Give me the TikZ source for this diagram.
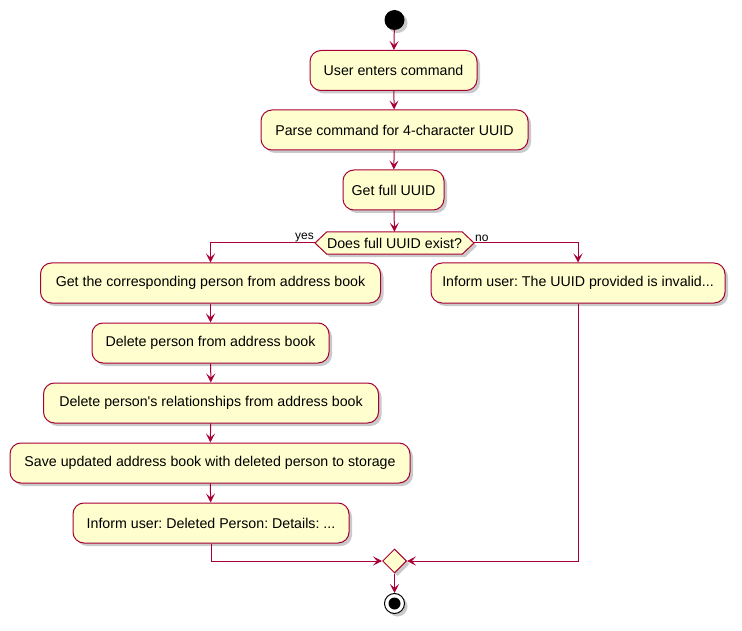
\documentclass[tikz,border=0pt]{standalone}
\usepackage{fontspec}
\setmainfont{Liberation Sans}
\frenchspacing
\usetikzlibrary{shapes.geometric,arrows.meta,shadows}
\definecolor{pborder}{HTML}{A80036}
\definecolor{pfill}{HTML}{FEFECE}
\tikzset{
  x=1pt,y=-1pt,
  shad/.style={drop shadow={shadow xshift=3pt,shadow yshift=-3pt,fill=black!35,opacity=0.6}},
  actbox/.style={draw=pborder,fill=pfill,line width=1pt,rounded corners=11pt,
    minimum height=40pt,inner sep=0pt,font=\fontsize{14.2}{17}\selectfont,shad},
  conn/.style={draw=pborder,line width=1pt,-{Stealth[length=9pt,width=9pt,inset=4pt]}},
  plain/.style={draw=pborder,line width=1pt},
  lbl/.style={font=\fontsize{12}{14}\selectfont,inner sep=1pt}
}
\begin{document}
\begin{tikzpicture}
\useasboundingbox (0,0) rectangle (742,631);
\node[circle,fill=black,minimum size=20pt,inner sep=0pt,shad] (start) at (394.5,20) {};
\node[actbox,minimum width=167pt] (uec) at (393.5,70.5) {User enters command};
\node[actbox,minimum width=267pt] (parse) at (394.5,130) {Parse command for 4-character UUID};
\node[actbox,minimum width=101pt] (full) at (393.5,190) {Get full UUID};
\node[minimum width=135pt,minimum height=22pt,inner sep=0pt] (dec) at (394.5,243) {};
\coordinate (decl) at (315,243);
\coordinate (decr) at (474,243);
\path[draw=pborder,fill=pfill,line width=1pt,shad] (decl) -- (dec.north west) -- (dec.north east) -- (decr) -- (dec.south east) -- (dec.south west) -- cycle;
\node[font=\fontsize{14.2}{17}\selectfont,inner sep=0pt] (dect) at (394.5,243.5) {Does full UUID exist?};
\node[lbl,anchor=south east] (yes) at (decl) {yes};
\node[lbl,anchor=south west] (no) at (decr) {no};
\node[actbox,minimum width=340pt] (get) at (210.5,283) {Get the corresponding person from address book};
\node[actbox,minimum width=237pt] (del) at (210.5,343) {Delete person from address book};
\node[actbox,minimum width=335pt] (rel) at (211,403) {Delete person\textquotesingle s relationships from address book};
\node[actbox,minimum width=400pt] (save) at (210,463) {Save updated address book with deleted person to storage};
\node[actbox,minimum width=276pt] (inf) at (211,523) {Inform user: Deleted Person: Details: ...};
\node[actbox,minimum width=294pt] (inv) at (578,283) {Inform user: The UUID provided is invalid...};
\node[diamond,draw=pborder,fill=pfill,line width=1pt,minimum width=24pt,minimum height=24pt,inner sep=0pt,shad] (merge) at (394.5,561) {};
\node[circle,draw=black,fill=white,line width=1pt,minimum size=20pt,inner sep=0pt,shad] (stop) at (394.5,603.5) {};
\node[circle,fill=black,minimum size=12pt,inner sep=0pt] (stopin) at (394.5,603.5) {};
\draw[conn] (start) -- (uec);
\draw[conn] (uec) -- (parse);
\draw[conn] (parse) -- (full);
\draw[conn] (full) -- (dec.north);
\draw[conn] (decl) -| (get.north);
\draw[conn] (decr) -| (inv.north);
\draw[conn] (get) -- (del);
\draw[conn] (del) -- (rel);
\draw[conn] (rel) -- (save);
\draw[conn] (save) -- (inf);
\draw[conn] (inf.south) |- (merge.west);
\draw[conn] (inv.south) |- (merge.east);
\draw[conn] (merge) -- (stop);
\end{tikzpicture}
\end{document}
